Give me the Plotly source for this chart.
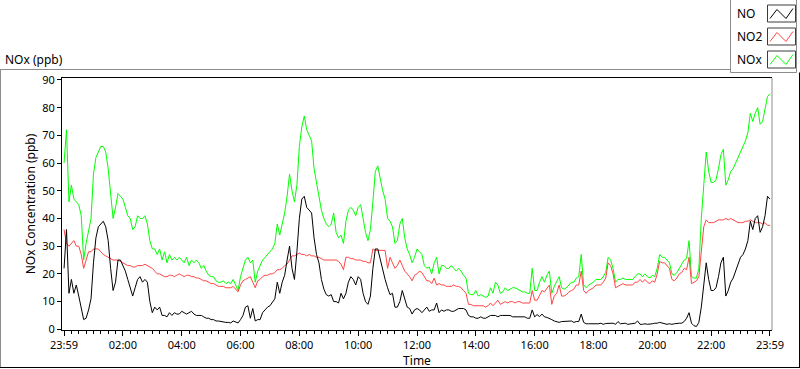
import plotly.graph_objects as go

# ---- data (5-minute samples, from 00:00 to 24:00) ----
minutes = list(range(0, 1441, 5))

no_ppb = [
    22, 36, 13, 18, 13, 16, 12, 7, 3.5, 4, 7, 11,
    24, 33, 37, 38, 39, 37, 32, 22, 14, 17, 25, 25,
    23, 21, 18, 15, 12, 15, 18, 19, 17, 18, 17, 10,
    6, 8, 7, 8, 5, 5, 4.5, 6, 5, 6, 5.5, 5.5,
    6.5, 6, 5.5, 6, 6.5, 5.5, 5, 5, 5, 4.5, 4, 4,
    3.5, 3.5, 3, 3, 2.8, 2.5, 2.5, 2.5, 2.3, 3, 2.5, 2.3,
    3.5, 5, 8, 8.5, 4, 7.5, 3, 3.5, 3.5, 6, 7, 8,
    8.5, 10, 11, 17, 13, 17, 19.5, 25, 30, 22, 18, 28,
    40, 47, 48, 44, 43, 42, 33, 27, 24, 18, 14.5, 12.5,
    12, 12.5, 10, 10, 9.5, 13, 11, 13, 17, 19, 18, 16,
    19, 18, 13, 10, 9, 12, 22, 29, 29, 25, 22, 18,
    15, 12.5, 13, 8, 8, 10, 14, 11, 8, 7.5, 5.5, 7,
    7.5, 7, 6, 7, 8, 6.5, 7, 7, 9.5, 6, 7, 6.5,
    7, 7, 6.5, 6.5, 7, 7.5, 7.5, 7.5, 7, 5, 4.5, 4.5,
    4, 4, 4.5, 4, 4, 4.5, 5, 5, 5, 4.5, 5, 5,
    5, 5, 5, 4.5, 4.5, 4.5, 4.5, 4.5, 4.5, 4, 4, 7,
    4.5, 5.3, 4.6, 5.5, 4.5, 4.3, 4, 3.5, 3, 2.8, 2.5, 2.8,
    2.8, 3, 2.8, 3, 2.5, 2.8, 2.8, 5.5, 2.5, 2, 2, 2,
    2, 1.8, 2, 2.2, 1.8, 2.1, 2.2, 2.2, 2.2, 1.8, 2.8, 2,
    2, 2.2, 1.8, 2, 2, 2.2, 3, 1.8, 1.8, 2, 1.8, 1.8,
    2, 2.2, 2.2, 2.5, 2.2, 2, 1.8, 2, 1.8, 2, 2.2, 2.2,
    2.2, 2.8, 4, 6, 2.2, 1.3, 1, 2.5, 8, 15, 24, 18,
    14, 14, 15, 19, 24, 26, 12, 14, 17, 18.5, 21, 24,
    26, 27, 29, 32, 39, 36, 40, 41, 35, 37, 41, 48,
    47,
]

no2_ppb = [
    36, 31, 30, 31, 32, 30, 30, 27, 22, 25, 28, 28,
    29, 29, 29, 28, 27, 26.5, 26, 25.5, 25, 25, 25, 24.5,
    24, 23.5, 23, 23, 22.5, 22.5, 23, 23, 23, 23.5, 23, 22.5,
    22, 21, 20, 20, 19.5, 19, 19, 19.5, 19.5, 19, 19.5, 20,
    19.5, 19, 19.5, 19.5, 19, 19, 18.5, 18.5, 18, 17.5, 17.5, 17,
    16.5, 16.5, 16, 15.5, 15.5, 15.5, 15, 15, 15, 15.5, 14.5, 13.5,
    16, 17.5, 18, 18.5, 19, 17, 15, 17.5, 18, 19, 19.5, 19.5,
    20, 20, 20.5, 21.5, 21.5, 22, 23, 23.5, 25, 26.5, 26.5, 27,
    27.5, 27, 27, 26.5, 27, 26.5, 26.5, 26, 26, 25.5, 25, 25,
    25, 25, 25, 25, 24.5, 23.5, 21.5, 26, 26, 25.5, 25.5, 25,
    25, 25, 24.5, 24.5, 24, 24, 29, 28.5, 28.5, 28.5, 28.5, 28.5,
    22, 26, 24, 22, 23, 25, 23, 21, 20, 19, 17.5, 19.5,
    20, 21, 20.5, 19, 17.5, 17.5, 16.5, 18.5, 16, 16.5, 16, 16,
    15.5, 15.5, 15.5, 16, 15.5, 15.5, 15, 14, 13, 9, 9, 8.5,
    8.5, 8.5, 8.5, 8.5, 8, 8.5, 9.5, 8.5, 9.5, 10.5, 9, 9.5,
    10, 9.5, 10, 10, 9.5, 10, 10, 9.5, 9.5, 9.5, 9.5, 14,
    10.5, 10.5, 12.5, 14, 13.5, 15, 16, 9, 12, 13, 16, 12,
    12, 12.5, 13.5, 14, 14.5, 16, 16, 21, 14, 13, 14, 14.5,
    15, 16, 16, 16, 17, 18.5, 24, 23, 20, 15, 15.5, 16,
    16.5, 16, 16, 16, 16, 17, 17, 18, 17, 18, 17, 16.5,
    17.5, 17, 20, 24.5, 24, 24, 23, 22, 18, 17.5, 18.5, 20,
    20.5, 22, 21.5, 26, 16.5, 17, 17.5, 19, 28, 37, 39.5, 38.5,
    38.5, 38.5, 39, 39.5, 39.5, 39.5, 40, 39.5, 40, 39.5, 39, 38.5,
    38.5, 38.5, 39, 39, 39.5, 39, 38.5, 38.5, 38.5, 38, 38.5, 37.5,
    37.5,
]

nox_ppb = [
    60, 72, 46, 52, 47, 46, 45, 41, 25, 31, 35, 40,
    56, 62, 64, 66, 66, 64, 58, 50, 40, 44, 49, 48,
    47, 44, 41, 40, 36, 37, 41, 40, 40, 41, 38, 32,
    29, 29, 27, 29, 25, 28, 24, 27, 25, 26, 25, 26,
    25, 24, 26, 23, 25, 24, 25, 24, 22, 23, 21, 19.5,
    19, 19, 17.5, 17, 17, 17.5, 16.5, 17, 16.5, 18, 16, 14,
    19, 22, 25, 26, 24, 25, 17, 21, 23, 25, 26, 27,
    28, 29, 31, 38, 34, 38, 42, 48, 56, 50, 46, 52,
    66, 73, 77, 72, 70, 68, 58, 53, 49, 43, 40, 38,
    37, 38, 42, 35, 33, 34, 31, 39, 43, 44, 43, 41,
    44, 45, 40, 35, 32, 36, 46, 57, 59, 54, 50, 47,
    40, 39, 37, 31, 32, 38, 40, 33, 29, 27, 24, 26,
    29, 28, 27, 23, 22, 22.5, 20, 24, 26, 20, 23, 23,
    22, 22, 23, 22, 21, 22, 21, 19.5, 18.5, 13, 12.5, 12.5,
    14, 12, 12.5, 12, 11.5, 12, 15, 13, 17, 16, 13, 13.5,
    15, 14, 14.5, 15, 15, 14.5, 14, 13.5, 13.5, 13, 13, 22,
    14, 14, 17, 19, 17, 19.5, 21, 13, 15.5, 17, 19, 15,
    14.5, 15, 16, 17, 17, 18.5, 19, 27, 16, 15, 16, 16.5,
    17, 18, 18, 18, 19, 20.5, 26, 25, 22, 17, 18, 18,
    18.5, 18, 18, 18, 18, 19, 20, 20, 19, 20, 19, 18.5,
    19.5, 19, 22, 27, 26, 26, 25, 24, 20, 19.5, 20.5, 22,
    23, 25, 25.5, 32, 19, 18.5, 18.5, 22, 40, 52, 64, 57,
    53, 53, 54, 58, 63, 65, 52, 54, 57, 58, 60, 62,
    64, 66, 68, 71, 78, 75, 78, 80, 74, 75, 80, 84,
    85,
]

tick_hours = [0, 2, 4, 6, 8, 10, 12, 14, 16, 18, 20, 22, 24]
tick_labels = ["23:59", "02:00", "04:00", "06:00", "08:00", "10:00", "12:00",
               "14:00", "16:00", "18:00", "20:00", "22:00", "23:59"]
y_ticks = [0, 10, 20, 30, 40, 50, 60, 70, 80, 90]

series_names = ["NO", "NO2", "NOx"]
series_colors = ["#000000", "#FF4545", "#00FF00"]

hours = [m / 60 for m in minutes]

# ---- layout geometry (pixels) ----
W, H = 800, 369
L, R, T, B = 62, 772, 78, 330
PW, PH = R - L, B - T


def px(x):
    return (x - L) / PW


def py(y):
    return (B - y) / PH


FONT = "Noto Sans"

fig = go.Figure()
series = list(zip(series_names, [no_ppb, no2_ppb, nox_ppb], series_colors))
for name, vals, col in reversed(series):
    fig.add_trace(go.Scatter(x=hours, y=vals, mode="lines", name=name,
                             line=dict(color=col, width=1), showlegend=False))

fig.update_layout(
    width=W, height=H,
    margin=dict(l=L, r=W - R, t=T, b=H - B, pad=0, autoexpand=False),
    paper_bgcolor="white", plot_bgcolor="white",
    font=dict(family=FONT, size=12, color="#000000"),
    xaxis=dict(
        range=[-0.07, 24.07], tickmode="array", tickvals=tick_hours, ticktext=tick_labels,
        showgrid=False, zeroline=False, showline=True, linecolor="#000000", linewidth=1,
        mirror=True, ticks="outside", ticklen=5, tickcolor="#000000", automargin=False,
        tickfont=dict(size=11, family=FONT),
        minor=dict(dtick=0.25, tick0=0, ticks="outside", ticklen=3, tickcolor="#000000", showgrid=False),
        title=dict(text="Time", font=dict(size=12, family=FONT), standoff=4),
    ),
    yaxis=dict(
        range=[-0.25, 90.7], tickmode="array", tickvals=y_ticks,
        showgrid=False, zeroline=False, showline=True, linecolor="#000000", linewidth=1,
        ticks="outside", ticklen=4, tickcolor="#000000", automargin=False,
        tickfont=dict(size=11, family=FONT),
        title=dict(text="NOx Concentration (ppb)", font=dict(size=12, family=FONT), standoff=4),
    ),
)

shapes = []
# outer frame
shapes.append(dict(type="line", xref="paper", yref="paper", x0=px(0), x1=px(730.5), y0=py(69.5), y1=py(69.5),
                   line=dict(color="#8C8C8C", width=1)))
shapes.append(dict(type="line", xref="paper", yref="paper", x0=px(0.5), x1=px(0.5), y0=py(69.5), y1=py(368),
                   line=dict(color="#8C8C8C", width=1)))
shapes.append(dict(type="line", xref="paper", yref="paper", x0=px(0), x1=px(800), y0=py(367.5), y1=py(367.5),
                   line=dict(color="#000000", width=1)))
shapes.append(dict(type="line", xref="paper", yref="paper", x0=px(799.5), x1=px(799.5), y0=py(72.5), y1=py(368),
                   line=dict(color="#000000", width=1)))
# plot-area right edge (grey)
shapes.append(dict(type="line", xref="paper", yref="paper", x0=1, x1=1, y0=0, y1=1,
                   line=dict(color="#8C8C8C", width=1)))
# legend box
shapes.append(dict(type="rect", xref="paper", yref="paper", x0=px(730.5), x1=px(796.5), y0=py(-1), y1=py(72.5),
                   line=dict(color="#8C8C8C", width=1), fillcolor="white"))

annotations = [
    dict(text="NOx (ppb)", xref="paper", yref="paper", x=px(3), y=py(59), xanchor="left", yanchor="middle",
         showarrow=False, font=dict(size=12, family=FONT, color="#000000")),
]

row_centers = [13.5, 36.5, 59.5]
for name, col, yc in zip(series_names, series_colors, row_centers):
    annotations.append(dict(text=name, xref="paper", yref="paper", x=px(735), y=py(yc),
                            xanchor="left", yanchor="middle", showarrow=False,
                            font=dict(size=12, family=FONT, color="#000000")))
    top, bot = yc - 8.5, yc + 8.5
    shapes.append(dict(type="rect", xref="paper", yref="paper", x0=px(767.5), x1=px(795.5),
                       y0=py(bot), y1=py(top), line=dict(color="#3C3C3C", width=1), fillcolor="white"))
    pts = [(770, yc + 5), (777, yc - 4), (786, yc + 5), (793, yc - 5)]
    path = "M " + " L ".join(f"{px(a):.5f},{py(b):.5f}" for a, b in pts)
    shapes.append(dict(type="path", xref="paper", yref="paper", path=path,
                       line=dict(color=col, width=1)))

fig.update_layout(shapes=shapes, annotations=annotations)

fig.write_html("out.html", config={"displayModeBar": False},
               post_script="document.body.style.margin='0px';document.body.style.overflow='hidden';")
